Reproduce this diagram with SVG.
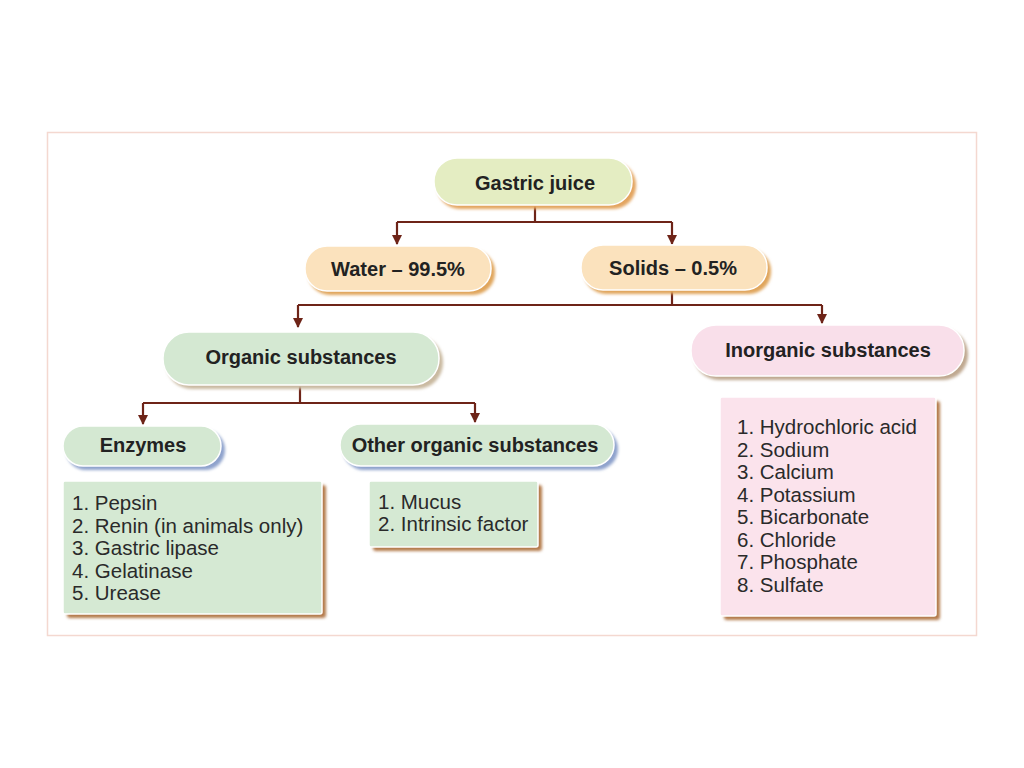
<svg xmlns="http://www.w3.org/2000/svg" width="1024" height="768" viewBox="0 0 1024 768">
<style>
.b{font-family:"Liberation Sans",Arial,sans-serif;font-weight:bold;font-size:20px;fill:#222;text-anchor:middle}
.t{font-family:"Liberation Sans",Arial,sans-serif;font-size:20.5px;fill:#2a2a2a}
.c{fill:none;stroke:#6e2418;stroke-width:2.2}
.sh{filter:url(#blur)}
.edge{stroke:#fff;stroke-width:1.5}
</style>
<defs>
<filter id="blur" x="-10%" y="-20%" width="120%" height="150%"><feGaussianBlur stdDeviation="1.6"/></filter>
<marker id="ah" viewBox="0 0 10 10" refX="9" refY="5" markerWidth="10" markerHeight="10" markerUnits="userSpaceOnUse" orient="auto">
<path d="M0,0 L10,5 L0,10 Z" fill="#6e2418"/>
</marker>
</defs>
<rect x="0" y="0" width="1024" height="768" fill="#fff"/>
<rect x="47.5" y="132.5" width="929" height="503" fill="#fff" stroke="#f4d8d0" stroke-width="1.5"/>

<g id="connectors">
<path class="c" d="M535,206 V222"/>
<path class="c" d="M397,222 H672"/>
<path class="c" d="M397,222 V244" marker-end="url(#ah)"/>
<path class="c" d="M672,222 V244" marker-end="url(#ah)"/>
<path class="c" d="M672,291 V305"/>
<path class="c" d="M298,305 H822"/>
<path class="c" d="M298,305 V327" marker-end="url(#ah)"/>
<path class="c" d="M822,305 V323" marker-end="url(#ah)"/>
<path class="c" d="M300,386 V403"/>
<path class="c" d="M143,403 H475"/>
<path class="c" d="M143,403 V424" marker-end="url(#ah)"/>
<path class="c" d="M475,403 V422" marker-end="url(#ah)"/>
</g>

<g id="gastric-juice">
<rect class="sh" x="437" y="162" width="199" height="47" rx="23" fill="#e3a45e"/>
<rect class="edge" x="434" y="158" width="198" height="47" rx="23" fill="#e4edc2"/>
<text class="b" x="535" y="190">Gastric juice</text>
</g>

<g id="water">
<rect class="sh" x="308" y="250" width="187" height="45" rx="22" fill="#e0a55c"/>
<rect class="edge" x="305" y="246" width="186" height="45" rx="22" fill="#fbe2bd"/>
<text class="b" x="398" y="276">Water – 99.5%</text>
</g>

<g id="solids">
<rect class="sh" x="584" y="249" width="187" height="45" rx="22" fill="#e0a55c"/>
<rect class="edge" x="581" y="245" width="186" height="45" rx="22" fill="#fbe2bd"/>
<text class="b" x="673" y="275">Solids – 0.5%</text>
</g>

<g id="organic">
<rect class="sh" x="166" y="336" width="277" height="53" rx="26" fill="#c9b9a0"/>
<rect class="edge" x="163" y="332" width="276" height="53" rx="26" fill="#d4e8d2"/>
<text class="b" x="301" y="364">Organic substances</text>
</g>

<g id="inorganic">
<rect class="sh" x="694" y="329" width="274" height="51" rx="25" fill="#bfa890"/>
<rect class="edge" x="691" y="325" width="273" height="51" rx="25" fill="#f9dfea"/>
<text class="b" x="828" y="357">Inorganic substances</text>
</g>

<g id="enzymes">
<rect class="sh" x="66" y="430" width="159" height="40" rx="20" fill="#8ea2cc"/>
<rect class="edge" x="63" y="426" width="158" height="40" rx="20" fill="#d4e8d2"/>
<text class="b" x="143" y="452">Enzymes</text>
</g>

<g id="other-organic">
<rect class="sh" x="343" y="428" width="275" height="42" rx="21" fill="#8ea2cc"/>
<rect class="edge" x="340" y="424" width="274" height="42" rx="21" fill="#d4e8d2"/>
<text class="b" x="475" y="452">Other organic substances</text>
</g>

<g id="enzymes-list">
<rect class="sh" x="67" y="485" width="259" height="133" rx="3" fill="#b47a4c"/>
<rect class="edge" x="63" y="481" width="259" height="133" rx="2" fill="#d5e9d3"/>
<text class="t" x="72" y="510">1. Pepsin</text>
<text class="t" x="72" y="532.5">2. Renin (in animals only)</text>
<text class="t" x="72" y="555">3. Gastric lipase</text>
<text class="t" x="72" y="577.5">4. Gelatinase</text>
<text class="t" x="72" y="600">5. Urease</text>
</g>

<g id="other-list">
<rect class="sh" x="373" y="485" width="169" height="66" rx="3" fill="#b47a4c"/>
<rect class="edge" x="369" y="481" width="169" height="66" rx="2" fill="#d5e9d3"/>
<text class="t" x="378" y="509">1. Mucus</text>
<text class="t" x="378" y="531">2. Intrinsic factor</text>
</g>

<g id="inorganic-list">
<rect class="sh" x="724" y="401" width="216" height="219" rx="3" fill="#b47a4c"/>
<rect class="edge" x="720" y="397" width="216" height="219" rx="2" fill="#fbe3ec"/>
<text class="t" x="737" y="434">1. Hydrochloric acid</text>
<text class="t" x="737" y="456.5">2. Sodium</text>
<text class="t" x="737" y="479">3. Calcium</text>
<text class="t" x="737" y="501.5">4. Potassium</text>
<text class="t" x="737" y="524">5. Bicarbonate</text>
<text class="t" x="737" y="546.5">6. Chloride</text>
<text class="t" x="737" y="569">7. Phosphate</text>
<text class="t" x="737" y="591.5">8. Sulfate</text>
</g>
</svg>
